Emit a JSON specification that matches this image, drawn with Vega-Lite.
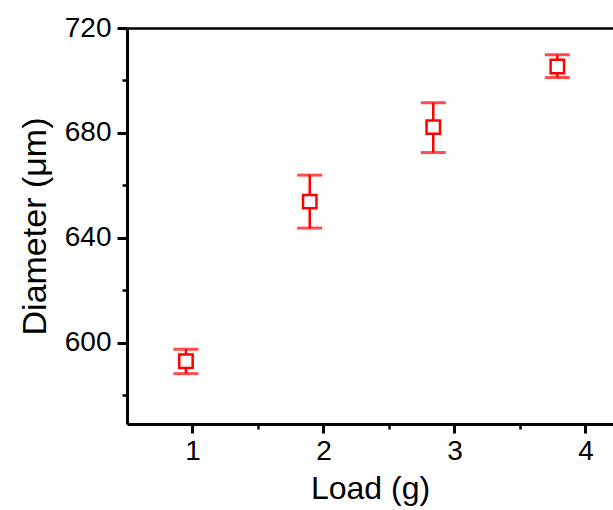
{
  "$schema": "https://vega.github.io/schema/vega-lite/v6.json",
  "autosize": "none",
  "width": 486,
  "height": 396,
  "padding": {"left": 127, "top": 28, "right": 0, "bottom": 86},
  "background": "white",
  "config": {
    "view": {"stroke": null},
    "font": "Liberation Sans",
    "axis": {
      "labelFont": "Liberation Sans",
      "titleFont": "Liberation Sans",
      "labelColor": "black",
      "titleColor": "black",
      "domainColor": "black",
      "tickColor": "black",
      "grid": false,
      "titleFontWeight": "normal"
    }
  },
  "data": {
    "values": [
      {"load": 0.95, "d": 592.9, "lo": 588.2, "hi": 597.5},
      {"load": 1.895, "d": 653.8, "lo": 643.7, "hi": 663.9},
      {"load": 2.838, "d": 682.2, "lo": 672.5, "hi": 691.5},
      {"load": 3.785, "d": 705.3, "lo": 701.1, "hi": 709.8}
    ]
  },
  "resolve": {"axis": {"x": "independent", "y": "independent"}},
  "layer": [
    {
      "mark": {"type": "rule", "color": "#FF0000", "strokeWidth": 2.5},
      "encoding": {
        "x": {"field": "load", "type": "quantitative", "scale": {"domain": [0.5, 4.21], "nice": false, "zero": false},
          "axis": {"orient": "bottom", "values": [1.5, 2.5, 3.5], "labels": false, "domain": false, "tickSize": 5, "tickWidth": 2.5, "title": null}},
        "y": {"field": "lo", "type": "quantitative", "scale": {"domain": [569, 720], "nice": false, "zero": false},
          "axis": {"orient": "left", "values": [580, 620, 660, 700], "labels": false, "domain": false, "tickSize": 5, "tickWidth": 2.5, "title": null}},
        "y2": {"field": "hi"}
      }
    },
    {
      "mark": {"type": "tick", "orient": "horizontal", "color": "#FF0000", "size": 25, "thickness": 3},
      "encoding": {
        "x": {"field": "load", "type": "quantitative",
          "axis": {"orient": "top", "labels": false, "ticks": false, "domainWidth": 2.5, "title": null}},
        "y": {"field": "lo", "type": "quantitative", "axis": null}
      }
    },
    {
      "mark": {"type": "tick", "orient": "horizontal", "color": "#FF0000", "size": 25, "thickness": 3},
      "encoding": {
        "x": {"field": "load", "type": "quantitative", "axis": null},
        "y": {"field": "hi", "type": "quantitative", "axis": null}
      }
    },
    {
      "mark": {"type": "point", "shape": "square", "size": 180, "filled": true, "fill": "white", "stroke": "#FF0000", "strokeWidth": 2.5, "opacity": 1},
      "encoding": {
        "x": {"field": "load", "type": "quantitative",
          "axis": {"orient": "bottom", "values": [1, 2, 3, 4], "title": "Load (g)", "domainWidth": 3, "tickSize": 9, "tickWidth": 3, "labelFontSize": 28, "labelPadding": 4, "titleFontSize": 32, "titlePadding": 8}},
        "y": {"field": "d", "type": "quantitative",
          "axis": {"orient": "left", "values": [600, 640, 680, 720], "title": "Diameter (μm)", "domainWidth": 3, "tickSize": 10, "tickWidth": 3, "labelFontSize": 28, "labelPadding": 6, "titleFontSize": 34, "titlePadding": 12}}
      }
    }
  ]
}
